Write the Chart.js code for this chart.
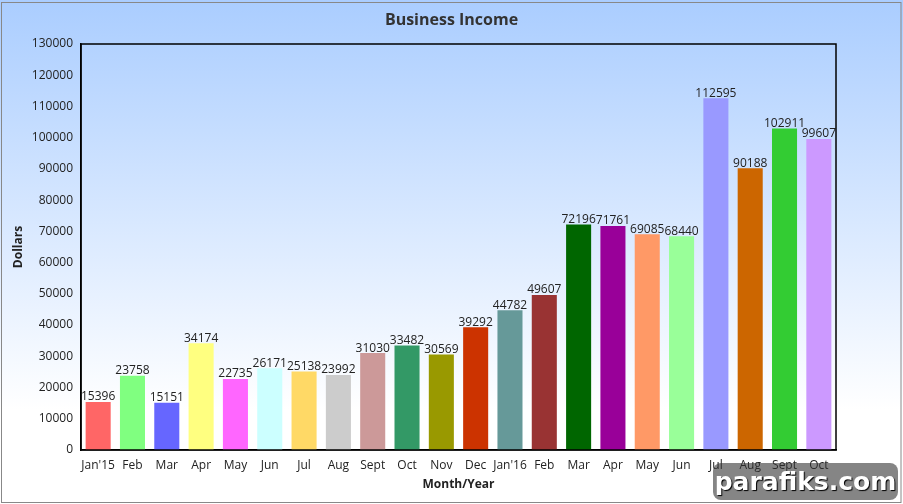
<!DOCTYPE html>
<html>
<head>
<meta charset="utf-8">
<script src="https://cdn.jsdelivr.net/npm/chart.js@4"></script>
<style>
  html, body { margin: 0; padding: 0; background: #fff; }
  #wrap { position: relative; width: 903px; height: 504px; }
  #watermark {
    position: absolute; left: 713px; top: 463px; width: 185px; height: 37px;
    background: rgba(51,51,51,0.6); border-radius: 8px;
    color: #fff; font: bold 25px "DejaVu Sans", sans-serif; text-align: center; line-height: 37px;
    text-shadow: 1px 1px 1px #000;
  }
</style>
</head>
<body>
<div id="wrap">
  <canvas id="chart" width="903" height="504"></canvas>
  <div id="watermark">parafiks.com</div>
</div>
<script>
const months = ["Jan'15", 'Feb', 'Mar', 'Apr', 'May', 'Jun', 'Jul', 'Aug', 'Sept', 'Oct', 'Nov',
  'Dec', "Jan'16", 'Feb', 'Mar', 'Apr', 'May', 'Jun', 'Jul', 'Aug', 'Sept', 'Oct']
const income = [15396, 23758, 15151, 34174, 22735, 26171, 25138, 23992, 31030, 33482, 30569,
  39292, 44782, 49607, 72196, 71761, 69085, 68440, 112595, 90188, 102911, 99607]
const barColors = ['#ff6666', '#80ff80', '#6666ff', '#ffff80', '#ff66ff', '#ccffff', '#ffd966',
  '#cccccc', '#cc9999', '#339966', '#999900', '#cc3300', '#669999', '#993333', '#006600',
  '#990099', '#ff9966', '#99ff99', '#9999ff', '#cc6600', '#33cc33', '#cc99ff']

const textColor = '#222'
const fontFamily = '"Open Sans", sans-serif'

// background gradient, outer grey frame, title, plot frame
const backdrop = {
  id: 'backdrop',
  beforeDraw(chart) {
    const { ctx, width, height } = chart
    const grad = ctx.createLinearGradient(0, 0, 0, 410)
    grad.addColorStop(0, '#aacdff')
    grad.addColorStop(1, '#ffffff')
    ctx.save()
    ctx.fillStyle = grad
    ctx.fillRect(0, 0, width, height)
    ctx.strokeStyle = '#888'
    ctx.lineWidth = 1
    ctx.strokeRect(1.5, 2.5, width - 3.5, height - 4)
    ctx.font = 'bold 16px ' + fontFamily
    ctx.fillStyle = '#333'
    ctx.textAlign = 'center'
    ctx.textBaseline = 'middle'
    ctx.fillText('Business Income', width / 2, 20)
    ctx.restore()
  },
  afterDraw(chart) {
    const { ctx, chartArea: a } = chart
    ctx.save()
    ctx.strokeStyle = '#000'
    ctx.lineWidth = 1.5
    ctx.strokeRect(a.left, a.top, a.right - a.left, a.bottom - a.top)
    ctx.restore()
  }
}

// value labels on top of bars
const valueLabels = {
  id: 'valueLabels',
  afterDatasetsDraw(chart) {
    const { ctx } = chart
    const meta = chart.getDatasetMeta(0)
    ctx.save()
    ctx.font = '12px ' + fontFamily
    ctx.fillStyle = textColor
    ctx.textAlign = 'center'
    ctx.textBaseline = 'bottom'
    meta.data.forEach((bar, i) => {
      ctx.fillText(String(income[i]), bar.x, bar.y + 1)
    })
    ctx.restore()
  }
}

new Chart(document.getElementById('chart').getContext('2d'), {
  type: 'bar',
  data: {
    labels: months,
    datasets: [{
      data: income,
      backgroundColor: barColors,
      borderWidth: 0,
      barPercentage: 0.73,
      categoryPercentage: 1
    }]
  },
  options: {
    responsive: false,
    animation: false,
    layout: { padding: { left: 0, right: 67, top: 44, bottom: 0 } },
    plugins: {
      legend: { display: false },
      tooltip: { enabled: false },
      title: { display: false }
    },
    scales: {
      x: {
        grid: { display: false, drawTicks: false },
        border: { display: true, color: '#000', width: 1.5 },
        ticks: { color: textColor, font: { family: fontFamily, size: 12 }, padding: 8, maxRotation: 0, autoSkip: false },
        title: {
          display: true, text: 'Month/Year', color: textColor,
          font: { family: fontFamily, size: 12, weight: 'bold' },
          padding: { top: 0, bottom: 12 }
        },
        afterFit(scale) { scale.height = 54 }
      },
      y: {
        min: 0,
        max: 130000,
        grid: { display: false, drawTicks: false },
        border: { display: true, color: '#000', width: 1.5 },
        ticks: {
          stepSize: 10000, color: textColor, font: { family: fontFamily, size: 12 }, padding: 8,
          callback: v => String(v)
        },
        title: {
          display: true, text: 'Dollars', color: textColor,
          font: { family: fontFamily, size: 12, weight: 'bold' },
          padding: { top: 11, bottom: 0 }
        },
        afterFit(scale) { scale.width = 81 }
      }
    }
  },
  plugins: [backdrop, valueLabels]
})
</script>
</body>
</html>
